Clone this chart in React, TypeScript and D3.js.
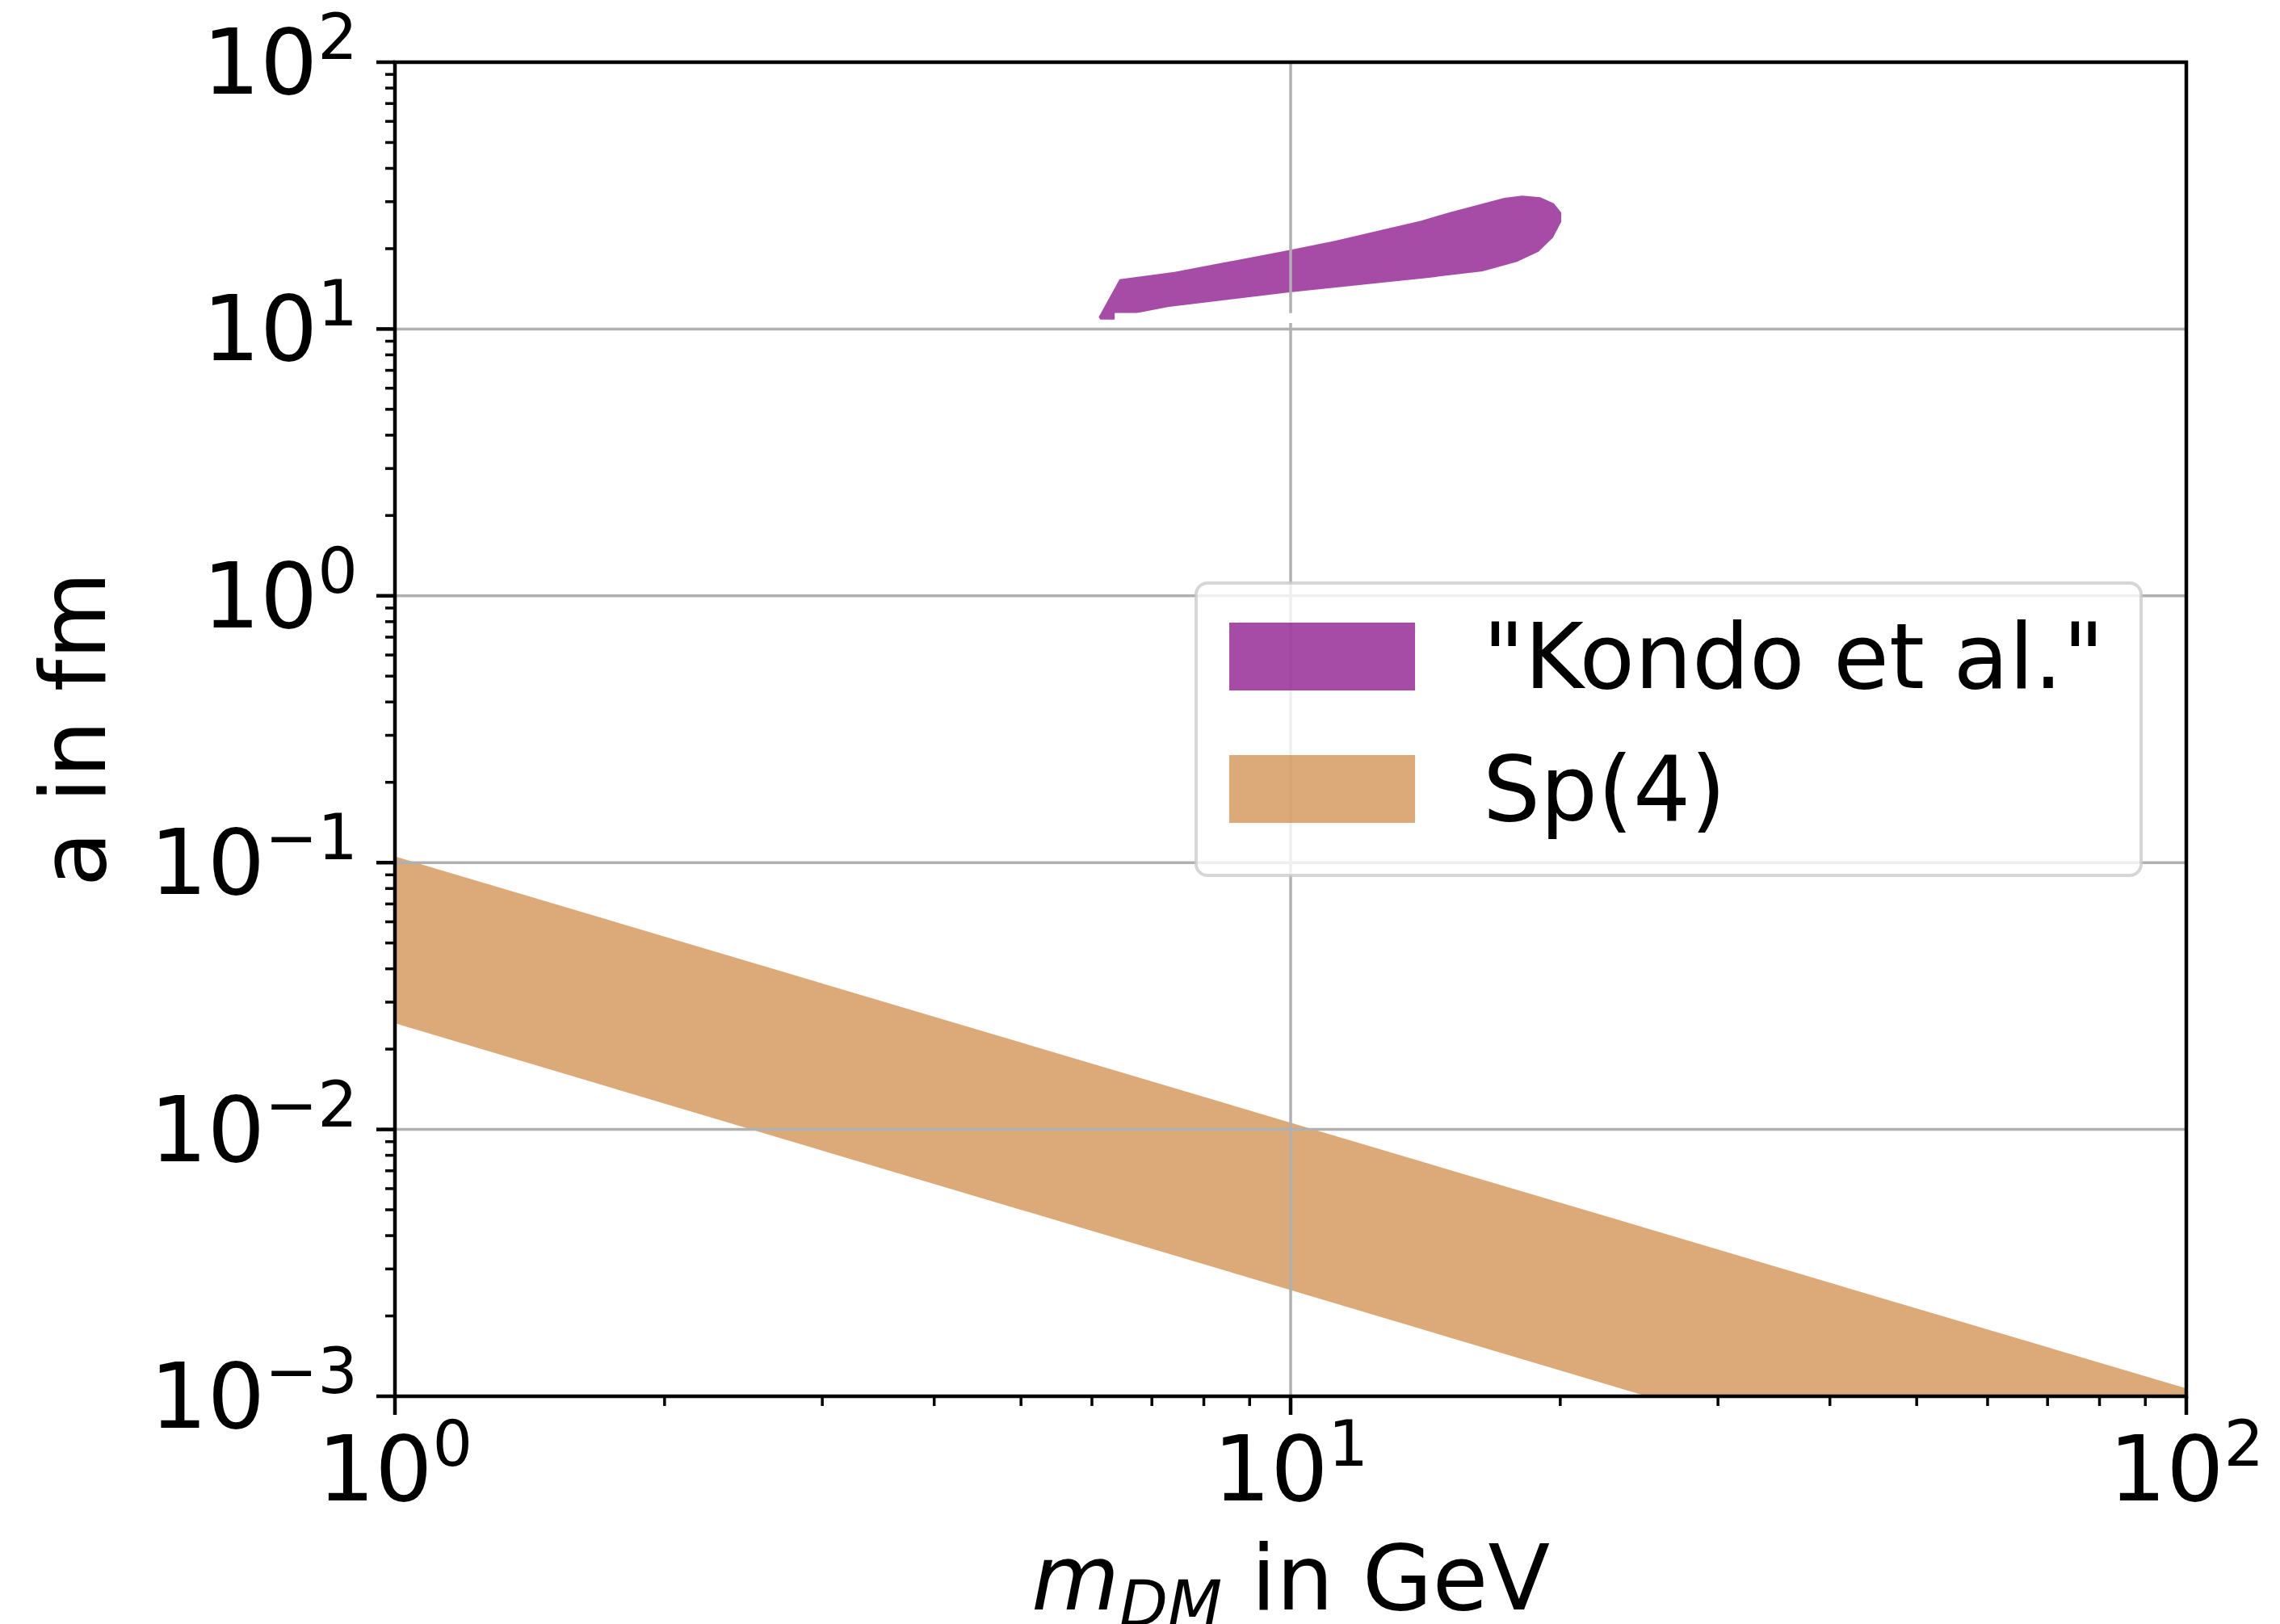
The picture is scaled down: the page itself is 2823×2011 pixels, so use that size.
import React from 'react';
import * as d3 from 'd3';

// outline of the "Kondo et al." region (m_DM in GeV, a in fm), clockwise from the lower left tip
const kondoMass = [6.105, 6.442, 7.417, 9.929, 11.2, 13.99, 15.07, 17.32, 18.14, 19.0, 19.67, 20.05,
  20.05, 19.63, 18.91, 17.89, 16.38, 14.26, 9.929, 7.314, 6.727, 6.365, 6.365, 6.133];
const kondoA = [11.08, 15.37, 16.37, 19.71, 21.39, 25.46, 27.42, 31.0, 31.6, 31.2, 29.6, 27.3,
  25.2, 22.0, 19.48, 17.84, 16.45, 15.56, 13.69, 12.1, 11.47, 11.47, 10.85, 10.85];

// white patch that cuts the grid line under the Kondo region
const maskMass = [6.365, 10.4];
const maskA = [10.53, 11.47];

// Sp(4) band
const spMass = [1, 10, 100];
const spUpper = [0.1055, 0.0106, 0.00107];
const spLower = [0.025, 0.0025, 0.00025];

const xTicks = [1, 10, 100];
const yTicks = [0.001, 0.01, 0.1, 1, 10, 100];

const legendItems = [
  { label: '"Kondo et al."', color: 'purple' },
  { label: 'Sp(4)', color: 'peru' },
];

const W = 2823;
const H = 2011;
const margin = { left: 489, right: W - 2707, top: 77, bottom: H - 1729 };
const FONT = 'DejaVu Sans';

const App = () => {
  const x = d3.scaleLog().domain([1, 100]).range([margin.left, W - margin.right]);
  const y = d3.scaleLog().domain([0.001, 100]).range([H - margin.bottom, margin.top]);
  const x0 = x.range()[0], x1 = x.range()[1];
  const y0 = y.range()[1], y1 = y.range()[0];

  const kondoPath = d3.line<number>()
    .x((_, i) => x(kondoMass[i]))
    .y((_, i) => y(kondoA[i]))(kondoMass.map((d) => d)) + 'Z';

  const band = d3.area<number>()
    .x((d) => x(d))
    .y0((_, i) => y(spLower[i]))
    .y1((_, i) => y(spUpper[i]));

  // minor ticks 2..9 in every decade
  const minor = (lo, hi) => {
    const out = [];
    for (let p = lo; p < hi; p++) {
      for (let k = 2; k <= 9; k++) out.push(k * Math.pow(10, p));
    }
    return out;
  };
  const xMinor = minor(0, 2);
  const yMinor = minor(-3, 2);

  const expo = (v) => {
    const e = Math.round(Math.log10(v));
    return e < 0 ? '\u2212' + Math.abs(e) : String(e);
  };

  const lx = 1481, ly = 722, lw = 1170, lh = 362;

  return (
    <svg width={W} height={H} style={{ position: 'absolute', left: 0, top: 0, background: '#fff' }}
      fontFamily={FONT}>
      <defs>
        <clipPath id="plot">
          <rect x={x0} y={y0} width={x1 - x0} height={y1 - y0} />
        </clipPath>
      </defs>

      <g clipPath="url(#plot)">
        <path d={band(spMass)} fill="peru" fillOpacity={0.7} />
        <path d={kondoPath} fill="purple" fillOpacity={0.7} />
      </g>

      {/* grid */}
      <g stroke="#b0b0b0" strokeWidth={3.5}>
        {xTicks.map((t) => <line key={'gx' + t} x1={x(t)} x2={x(t)} y1={y0} y2={y1} />)}
        {yTicks.map((t) => <line key={'gy' + t} x1={x0} x2={x1} y1={y(t)} y2={y(t)} />)}
      </g>

      <rect x={x(maskMass[0])} y={y(maskA[1])} width={x(maskMass[1]) - x(maskMass[0])}
        height={y(maskA[0]) - y(maskA[1])} fill="#fff" />

      {/* ticks */}
      <g stroke="#000">
        {xTicks.map((t) => <line key={'tx' + t} x1={x(t)} x2={x(t)} y1={y1} y2={y1 + 23} strokeWidth={4.5} />)}
        {xMinor.map((t) => <line key={'mx' + t} x1={x(t)} x2={x(t)} y1={y1} y2={y1 + 12} strokeWidth={3.5} />)}
        {yTicks.map((t) => <line key={'ty' + t} x1={x0 - 23} x2={x0} y1={y(t)} y2={y(t)} strokeWidth={4.5} />)}
        {yMinor.map((t) => <line key={'my' + t} x1={x0 - 12} x2={x0} y1={y(t)} y2={y(t)} strokeWidth={3.5} />)}
      </g>

      <rect x={x0} y={y0} width={x1 - x0} height={y1 - y0} fill="none" stroke="#000" strokeWidth={4.5} />

      {/* tick labels */}
      <g fontSize={112} fill="#000">
        {xTicks.map((t) => (
          <text key={'lx' + t} x={x(t)} y={1858} textAnchor="middle">
            10<tspan dy={-43} fontSize={78}>{expo(t)}</tspan>
          </text>
        ))}
        {yTicks.map((t) => (
          <text key={'ly' + t} x={443} y={y(t) + 39} textAnchor="end">
            10<tspan dy={-43} fontSize={78}>{expo(t)}</tspan>
          </text>
        ))}
      </g>

      {/* axis labels */}
      <text x={(x0 + x1) / 2} y={1993} textAnchor="middle" fontSize={112}>
        <tspan fontStyle="italic">m</tspan>
        <tspan fontStyle="italic" fontSize={78} dy={20}>DM</tspan>
        <tspan dy={-20}> in GeV</tspan>
      </text>
      <text transform={`translate(130,${(y0 + y1) / 2}) rotate(-90)`} textAnchor="middle" fontSize={112}>
        a in fm
      </text>

      {/* legend */}
      <rect x={lx} y={ly} width={lw} height={lh} rx={14} fill="#fff" fillOpacity={0.8}
        stroke="#cccccc" strokeOpacity={0.8} strokeWidth={4} />
      {legendItems.map((d, i) => (
        <g key={d.label} transform={`translate(0,${i * 164})`}>
          <rect x={1522} y={771} width={230} height={84} fill={d.color} fillOpacity={0.7} />
          <text x={1836} y={852} fontSize={112}>{d.label}</text>
        </g>
      ))}
    </svg>
  );
};

export default App;
